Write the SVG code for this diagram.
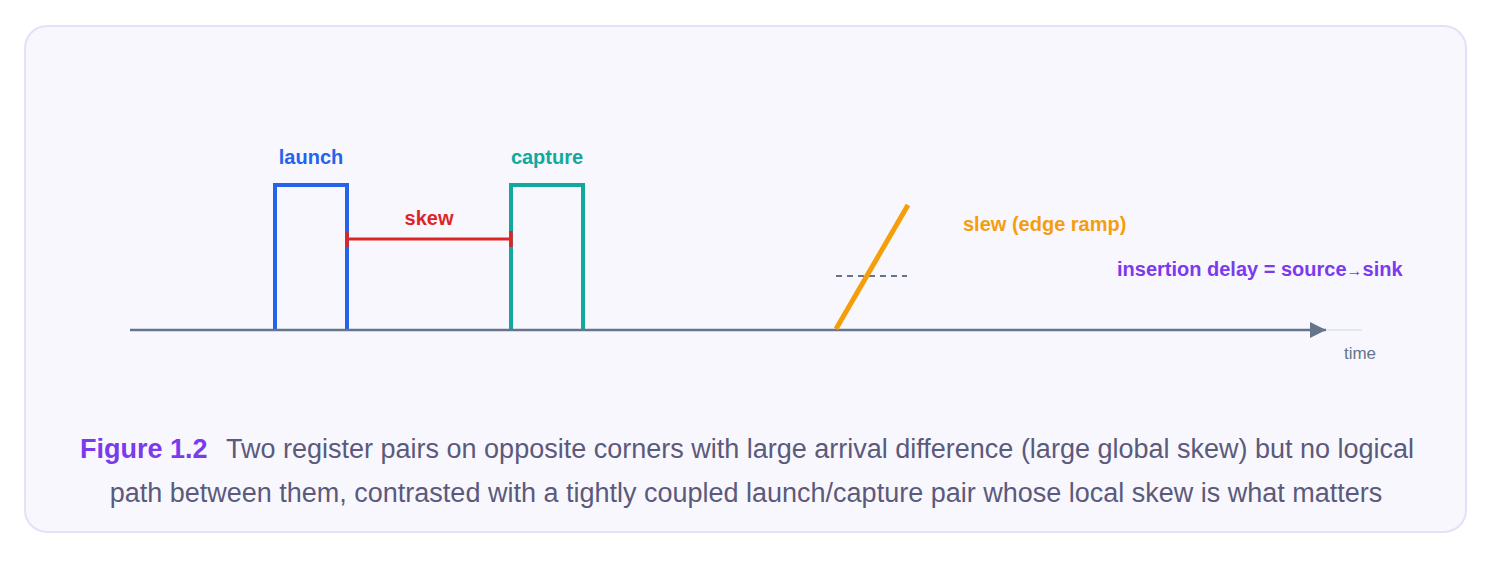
<svg xmlns="http://www.w3.org/2000/svg" width="1494" height="561" viewBox="0 0 1494 561">
<defs>
<style>
.lbl{font-family:"Liberation Sans",Arial,sans-serif;font-weight:bold;font-size:20px}
.cap{font-family:"Liberation Sans",Arial,sans-serif;font-size:27px;fill:#5b5a7c}
.pulse{fill:none;stroke-width:4}
</style>
<marker id="arr" viewBox="0 0 10 10" refX="10" refY="5" markerWidth="19" markerHeight="16" markerUnits="userSpaceOnUse" orient="auto">
<path d="M0,0 L10,5 L0,10 z" fill="#64748b"/>
</marker>
</defs>
<rect x="25" y="26" width="1441" height="506" rx="22" fill="#f8f7fd" stroke="#e4e0f7" stroke-width="2"/>
<g id="launch">
<path class="pulse" d="M275 330 V185 H347 V330" stroke="#2563eb"/>
<text class="lbl" x="311" y="164" text-anchor="middle" fill="#2563eb">launch</text>
</g>
<g id="capture">
<path class="pulse" d="M511 330 V185 H583 V330" stroke="#13a89e"/>
<text class="lbl" x="547" y="164" text-anchor="middle" fill="#13a89e">capture</text>
</g>
<g id="connectors">
<line x1="1326" y1="330" x2="1362" y2="330" stroke="#e2e8f0" stroke-width="2"/>
<line x1="130" y1="330" x2="1326" y2="330" stroke="#64748b" stroke-width="2.5" marker-end="url(#arr)"/>
<g id="skew-bar" stroke="#dc2626">
<line x1="347" y1="239" x2="511" y2="239" stroke-width="3"/>
<line x1="347" y1="231" x2="347" y2="247" stroke-width="3.5"/>
<line x1="511" y1="231" x2="511" y2="247" stroke-width="3.5"/>
</g>
<line x1="836" y1="276" x2="907" y2="276" stroke="#64748b" stroke-width="2" stroke-dasharray="6 5"/>
</g>
<g id="skew">
<text class="lbl" x="429" y="225" text-anchor="middle" fill="#dc2626">skew</text>
</g>
<g id="slew">
<line x1="836" y1="329" x2="908" y2="205" stroke="#f59e0b" stroke-width="5"/>
<text class="lbl" x="963" y="231" fill="#f59e0b">slew (edge ramp)</text>
</g>
<g id="insertion">
<text class="lbl" x="1117" y="276" fill="#7c3aed">insertion delay = source<tspan font-size="16">→</tspan>sink</text>
</g>
<g id="time">
<text x="1360" y="359" text-anchor="middle" font-family="Liberation Sans,Arial,sans-serif" font-size="17" fill="#64748b">time</text>
</g>
<g id="caption">
<text class="cap" x="80" y="458"><tspan font-weight="bold" fill="#7c3aed">Figure 1.2</tspan><tspan x="226">Two register pairs on opposite corners with large arrival difference (large global skew) but no logical</tspan></text>
<text class="cap" x="746" y="502" text-anchor="middle">path between them, contrasted with a tightly coupled launch/capture pair whose local skew is what matters</text>
</g>
</svg>
